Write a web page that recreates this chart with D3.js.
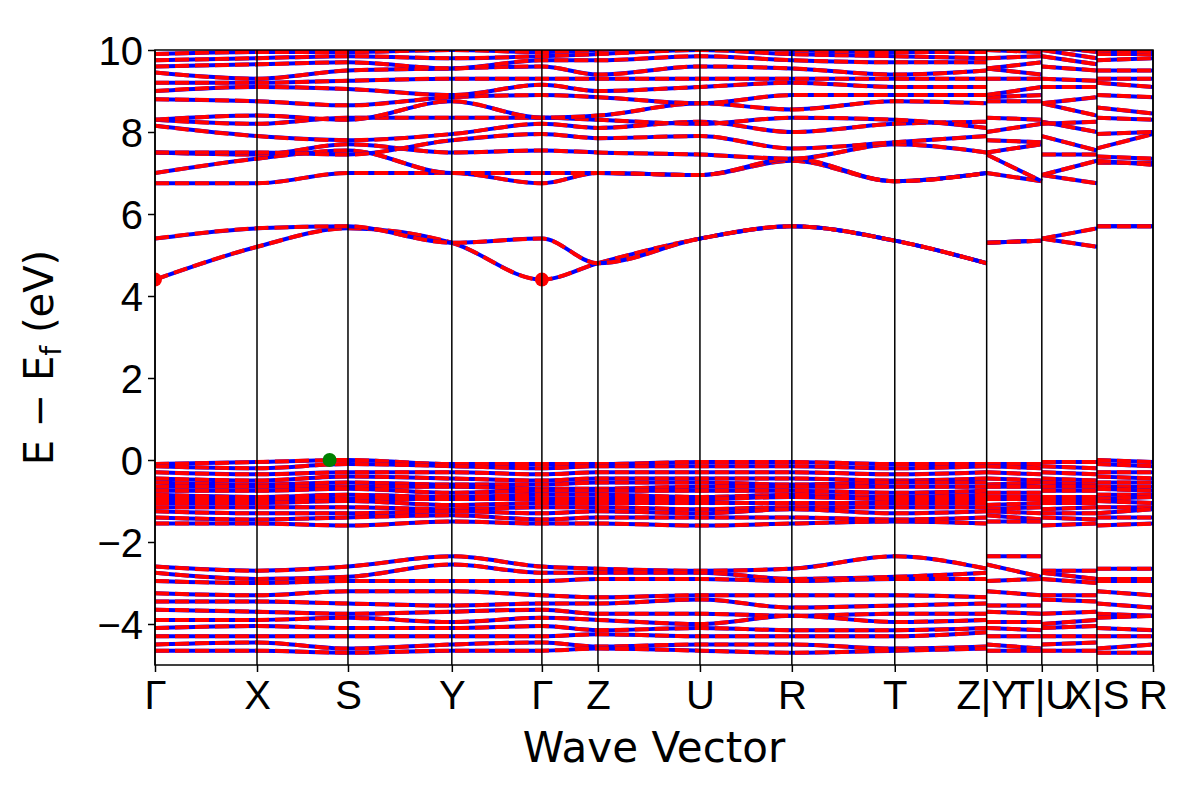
<!DOCTYPE html>
<html><head><meta charset="utf-8">
<script src="https://d3js.org/d3.v7.min.js"></script>
<style>body{margin:0;background:#fff}svg{font-family:"DejaVu Sans",sans-serif}</style>
</head><body><div id="graph"></div>
<script>
// k-path distances of the high symmetry nodes (in arbitrary path units)
var nodeDist = [0, 1.11, 2.10, 3.23, 4.21, 4.82, 5.93, 6.93, 8.05, 9.05, 9.05, 9.65, 9.65, 10.25, 10.25, 10.86];
// path breaks after these node indices
var breaks = [9, 11, 13];
var tickDist = [0, 1.11, 2.10, 3.23, 4.21, 4.82, 5.93, 6.93, 8.05, 9.05, 9.65, 10.25, 10.86];
var tickLabels = ["Γ", "X", "S", "Y", "Γ", "Z", "U", "R", "T", "Z|Y", "T|U", "X|S", "R"];

// band energies at nodes: Γ X S Y Γ Z U R T Z | Y T | U X | S R
var condBands = [
  [4.4, 5.2, 5.65, 5.3, 4.4, 4.8, 5.4, 5.7, 5.35, 4.8, 5.3, 5.35, 5.4, 5.2, 5.7, 5.7],
  [5.4, 5.65, 5.7, 5.3, 5.4, 4.8, 5.4, 5.7, 5.35, 4.8, 5.3, 5.35, 5.4, 5.65, 5.7, 5.7],
  [6.75, 6.75, 7.0, 7.0, 6.75, 7.0, 6.95, 7.3, 6.8, 7.0, 7.0, 6.8, 6.95, 6.75, 7.25, 7.25],
  [7.0, 7.35, 7.55, 7.0, 7.0, 7.0, 6.95, 7.35, 6.8, 7.0, 7.45, 6.8, 6.95, 7.3, 7.3, 7.2],
  [7.5, 7.45, 7.7, 7.5, 7.55, 7.5, 7.45, 7.35, 7.7, 7.5, 7.5, 7.7, 7.45, 7.45, 7.4, 7.35],
  [7.5, 7.5, 7.45, 7.8, 7.95, 7.85, 7.9, 7.6, 7.75, 7.9, 7.8, 7.75, 7.9, 7.55, 7.6, 7.95],
  [8.15, 7.9, 7.8, 7.95, 8.2, 8.1, 8.25, 8.0, 8.2, 8.25, 8.0, 8.2, 8.25, 8.0, 7.95, 8.0],
  [8.3, 8.2, 8.35, 8.35, 8.35, 8.3, 8.2, 8.35, 8.3, 8.1, 8.35, 8.3, 8.2, 8.25, 8.35, 8.3],
  [8.3, 8.4, 8.3, 8.75, 8.35, 8.4, 8.7, 8.55, 8.75, 8.7, 8.75, 8.75, 8.7, 8.4, 8.6, 8.45],
  [8.8, 8.75, 8.65, 8.85, 8.9, 8.85, 8.7, 8.9, 8.9, 8.9, 8.85, 8.9, 8.7, 8.85, 8.9, 8.85],
  [9.0, 9.1, 9.05, 8.9, 9.15, 9.0, 9.1, 9.2, 9.1, 9.1, 8.9, 9.1, 9.1, 9.1, 9.2, 9.1],
  [9.2, 9.2, 9.25, 9.3, 9.3, 9.3, 9.3, 9.3, 9.3, 9.3, 9.3, 9.3, 9.3, 9.25, 9.3, 9.3],
  [9.45, 9.3, 9.5, 9.55, 9.6, 9.4, 9.6, 9.55, 9.4, 9.5, 9.55, 9.4, 9.6, 9.5, 9.5, 9.5],
  [9.6, 9.65, 9.7, 9.55, 9.75, 9.75, 9.85, 9.75, 9.7, 9.7, 9.55, 9.7, 9.85, 9.65, 9.75, 9.8],
  [9.75, 9.8, 9.85, 9.8, 9.85, 9.9, 10.0, 9.9, 9.85, 9.8, 9.8, 9.85, 10.0, 9.8, 9.9, 9.9],
  [9.9, 9.95, 9.95, 10.0, 9.95, 10.0, 10.1, 10.0, 9.95, 9.95, 10.0, 9.95, 10.1, 9.95, 10.0, 9.95]
];
var valBands = [
  [-0.1, -0.05, 0.0, -0.1, -0.1, -0.1, -0.05, -0.05, -0.1, -0.1, -0.1, -0.1, -0.05, -0.05, -0.0, -0.05],
  [-0.15, -0.2, -0.1, -0.15, -0.2, -0.15, -0.15, -0.15, -0.2, -0.15, -0.15, -0.2, -0.15, -0.2, -0.1, -0.15],
  [-0.3, -0.35, -0.3, -0.3, -0.35, -0.3, -0.3, -0.3, -0.35, -0.3, -0.3, -0.35, -0.3, -0.35, -0.3, -0.3],
  [-0.45, -0.5, -0.4, -0.45, -0.5, -0.45, -0.45, -0.45, -0.5, -0.45, -0.45, -0.5, -0.45, -0.5, -0.4, -0.45],
  [-0.55, -0.6, -0.55, -0.6, -0.6, -0.55, -0.55, -0.6, -0.55, -0.55, -0.6, -0.55, -0.55, -0.6, -0.55, -0.55],
  [-0.65, -0.65, -0.65, -0.65, -0.7, -0.7, -0.65, -0.65, -0.65, -0.65, -0.65, -0.65, -0.65, -0.65, -0.65, -0.65],
  [-0.75, -0.75, -0.7, -0.8, -0.75, -0.75, -0.75, -0.75, -0.8, -0.75, -0.8, -0.8, -0.75, -0.75, -0.7, -0.75],
  [-0.85, -0.9, -0.85, -0.9, -0.85, -0.85, -0.9, -0.85, -0.9, -0.85, -0.9, -0.9, -0.9, -0.9, -0.85, -0.85],
  [-0.95, -0.95, -0.95, -0.95, -0.95, -0.95, -0.95, -0.9, -0.95, -0.95, -0.95, -0.95, -0.95, -0.95, -0.95, -0.9],
  [-1.05, -1.05, -1.0, -1.1, -1.05, -1.05, -1.05, -1.05, -1.05, -1.05, -1.1, -1.05, -1.05, -1.05, -1.0, -1.05],
  [-1.15, -1.15, -1.15, -1.2, -1.15, -1.15, -1.2, -1.15, -1.15, -1.15, -1.2, -1.15, -1.2, -1.15, -1.15, -1.15],
  [-1.25, -1.3, -1.3, -1.25, -1.3, -1.25, -1.3, -1.2, -1.3, -1.25, -1.25, -1.3, -1.3, -1.3, -1.3, -1.2],
  [-1.4, -1.45, -1.4, -1.35, -1.45, -1.4, -1.4, -1.4, -1.45, -1.4, -1.35, -1.45, -1.4, -1.45, -1.4, -1.4],
  [-1.55, -1.55, -1.6, -1.5, -1.55, -1.55, -1.6, -1.55, -1.5, -1.55, -1.5, -1.5, -1.6, -1.55, -1.6, -1.55],
  [-2.6, -2.7, -2.6, -2.35, -2.6, -2.65, -2.7, -2.65, -2.35, -2.65, -2.35, -2.35, -2.7, -2.7, -2.65, -2.65],
  [-2.75, -2.9, -2.85, -2.55, -2.75, -2.75, -2.75, -2.9, -2.85, -2.75, -2.55, -2.85, -2.75, -2.9, -2.9, -2.9],
  [-2.95, -3.0, -2.95, -2.95, -2.95, -2.9, -2.9, -2.95, -2.9, -2.9, -2.95, -2.9, -2.9, -3.0, -2.95, -2.95],
  [-3.25, -3.3, -3.2, -3.2, -3.3, -3.35, -3.3, -3.3, -3.3, -3.35, -3.2, -3.3, -3.3, -3.3, -3.2, -3.3],
  [-3.45, -3.45, -3.5, -3.55, -3.5, -3.5, -3.4, -3.6, -3.55, -3.5, -3.55, -3.55, -3.4, -3.45, -3.5, -3.6],
  [-3.65, -3.7, -3.75, -3.7, -3.65, -3.75, -3.75, -3.8, -3.75, -3.75, -3.7, -3.75, -3.75, -3.7, -3.75, -3.8],
  [-3.9, -3.9, -3.85, -3.95, -3.85, -3.9, -4.0, -3.8, -3.95, -3.9, -3.95, -3.95, -4.0, -3.9, -3.85, -3.8],
  [-4.1, -4.05, -4.1, -4.1, -4.05, -4.15, -4.1, -4.15, -4.15, -4.1, -4.1, -4.15, -4.1, -4.05, -4.1, -4.15],
  [-4.3, -4.3, -4.3, -4.3, -4.3, -4.25, -4.3, -4.3, -4.3, -4.2, -4.3, -4.3, -4.3, -4.3, -4.3, -4.3],
  [-4.5, -4.45, -4.6, -4.5, -4.45, -4.55, -4.5, -4.5, -4.6, -4.55, -4.5, -4.6, -4.5, -4.45, -4.6, -4.5],
  [-4.65, -4.65, -4.7, -4.65, -4.65, -4.6, -4.65, -4.7, -4.65, -4.6, -4.65, -4.65, -4.65, -4.65, -4.7, -4.7]
];
// band extrema markers
var cbm = [{k: 0, e: 4.4}, {k: 4.21, e: 4.4}];
var vbm = [{k: 1.90, e: 0.0}];
var yTicks = [-4, -2, 0, 2, 4, 6, 8, 10];

var W = 1200, H = 800;
var margin = {top: 50, right: 47, bottom: 135, left: 155};
var width = W - margin.left - margin.right;
var height = H - margin.top - margin.bottom;

var svg = d3.select("#graph").append("svg").attr("width", W).attr("height", H)
  .append("g").attr("transform", "translate(" + margin.left + "," + margin.top + ")");

var x = d3.scaleLinear().domain([0, 10.86]).range([0, width]);
var y = d3.scaleLinear().domain([-5, 10]).range([height, 0]);

svg.append("defs").append("clipPath").attr("id", "clip")
  .append("rect").attr("width", width).attr("height", height);

var plot = svg.append("g").attr("clip-path", "url(#clip)");

// split a band into continuous segments
function segments(band) {
  var segs = [], cur = [];
  band.forEach(function(e, i) {
    cur.push({k: nodeDist[i], e: e});
    if (breaks.indexOf(i) >= 0) { segs.push(cur); cur = []; }
  });
  segs.push(cur);
  return segs;
}
var line = d3.line().x(function(d) { return x(d.k); }).y(function(d) { return y(d.e); })
  .curve(d3.curveMonotoneX);

var allBands = condBands.concat(valBands);
allBands.forEach(function(b) {
  segments(b).forEach(function(s) {
    plot.append("path").attr("d", line(s)).attr("fill", "none")
      .attr("stroke", "blue").attr("stroke-width", 4);
    plot.append("path").attr("d", line(s)).attr("fill", "none")
      .attr("stroke", "red").attr("stroke-width", 4).attr("stroke-dasharray", "14,6");
  });
});

// vertical lines at high symmetry points
svg.selectAll(".kline").data(tickDist).enter().append("line")
  .attr("x1", function(d) { return x(d); }).attr("x2", function(d) { return x(d); })
  .attr("y1", 0).attr("y2", height).attr("stroke", "black").attr("stroke-width", 1.5);

plot.selectAll(".cbm").data(cbm).enter().append("circle")
  .attr("cx", function(d) { return x(d.k); }).attr("cy", function(d) { return y(d.e); })
  .attr("r", 7).attr("fill", "red");
plot.selectAll(".vbm").data(vbm).enter().append("circle")
  .attr("cx", function(d) { return x(d.k); }).attr("cy", function(d) { return y(d.e); })
  .attr("r", 7).attr("fill", "green");

// frame
svg.append("rect").attr("width", width).attr("height", height)
  .attr("fill", "none").attr("stroke", "black").attr("stroke-width", 1.5);

// y axis
var ya = svg.append("g").call(d3.axisLeft(y).tickValues(yTicks).tickSize(7)
  .tickFormat(function(d) { return d < 0 ? "\u2212" + Math.abs(d) : d; }));
ya.select(".domain").remove();
ya.selectAll("line").attr("stroke-width", 1.5);
ya.selectAll("text").attr("font-size", 40).attr("fill", "black").attr("dx", "-2").attr("dy", "0.35em");

// x axis (labels at path breaks overlap, as in the original plot)
var xa = svg.append("g").attr("transform", "translate(0," + height + ")")
  .call(d3.axisBottom(x).tickValues(tickDist).tickSize(7).tickFormat(function(d, i) { return tickLabels[i]; }));
xa.select(".domain").remove();
xa.selectAll("line").attr("stroke-width", 1.5);
xa.selectAll("text").attr("font-size", 40).attr("fill", "black").attr("dy", "0.85em");

svg.append("text").attr("x", width / 2).attr("y", height + 97).attr("text-anchor", "middle")
  .attr("font-size", 42).text("Wave Vector");

var yl = svg.append("text").attr("transform", "rotate(-90)").attr("x", -height / 2).attr("y", -102)
  .attr("text-anchor", "middle").attr("font-size", 40);
yl.append("tspan").text("E \u2212 E");
yl.append("tspan").attr("font-size", 28).attr("dy", 8).text("f");
yl.append("tspan").attr("dy", -8).text(" (eV)");
</script></body></html>
